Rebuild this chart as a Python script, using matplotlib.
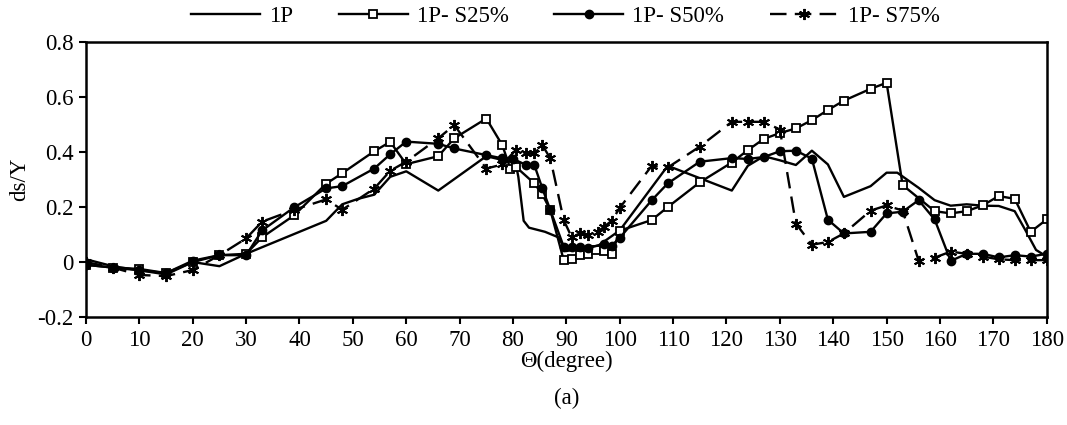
import matplotlib
matplotlib.use("Agg")
import matplotlib.pyplot as plt

plt.rcParams['font.family'] = ['Liberation Serif', 'DejaVu Serif']

# 1P (line only)
x_1p = [0, 5, 10, 15, 20, 25, 30, 45, 48, 51, 54, 57, 60, 66, 75, 80.5, 81, 82, 83, 86, 88.5, 90,
        93, 96, 100, 109, 121, 124, 127, 130, 133, 136, 139, 142, 147, 150, 152, 156, 159, 162, 165,
        168, 171, 174, 176, 178, 180]
y_1p = [0.01, -0.015, -0.03, -0.045, 0.0, -0.015, 0.03, 0.15, 0.21, 0.23, 0.245, 0.31, 0.33, 0.26, 0.385,
        0.36, 0.31, 0.15, 0.125, 0.11, 0.09, 0.04, 0.05, 0.06, 0.115, 0.35, 0.26, 0.35, 0.385, 0.37, 0.353,
        0.405, 0.355, 0.237, 0.276, 0.325, 0.325, 0.27, 0.225, 0.205, 0.21, 0.205, 0.204, 0.185, 0.116,
        0.044, 0.02]

# 1P- S25%
x_s25 = [0, 5, 10, 15, 20, 25, 30, 33, 39, 45, 48, 54, 57, 60, 66, 69, 75, 78, 79.5, 80.5, 84, 85.5, 87,
         89.5, 91, 92.5, 94, 95.5, 97, 98.5, 100, 106, 109, 115, 121, 124, 127, 130, 133, 136, 139, 142,
         147, 150, 153, 159, 162, 165, 168, 171, 174, 177, 180]
y_s25 = [-0.01, -0.02, -0.025, -0.04, 0.0, 0.025, 0.03, 0.09, 0.17, 0.285, 0.323, 0.403, 0.437, 0.356,
         0.385, 0.45, 0.522, 0.425, 0.34, 0.347, 0.286, 0.246, 0.189, 0.007, 0.01, 0.025, 0.03, 0.044,
         0.04, 0.028, 0.114, 0.153, 0.2, 0.29, 0.362, 0.407, 0.448, 0.469, 0.486, 0.516, 0.553, 0.587,
         0.63, 0.652, 0.28, 0.185, 0.177, 0.185, 0.206, 0.24, 0.23, 0.11, 0.155]

# 1P- S50%
x_s50 = [0, 5, 10, 15, 20, 25, 30, 33, 39, 45, 48, 54, 57, 60, 66, 69, 75, 78, 80, 82.5, 84, 85.5, 87,
         89.5, 91, 92.5, 94, 97, 98.5, 100, 106, 109, 115, 121, 124, 127, 130, 133, 136, 139, 142, 147,
         150, 153, 156, 159, 162, 165, 168, 171, 174, 177, 180]
y_s50 = [-0.01, -0.02, -0.03, -0.04, 0.005, 0.025, 0.025, 0.115, 0.199, 0.268, 0.276, 0.34, 0.392,
         0.438, 0.43, 0.413, 0.389, 0.377, 0.375, 0.353, 0.353, 0.268, 0.189, 0.056, 0.056, 0.056, 0.05,
         0.066, 0.06, 0.088, 0.225, 0.286, 0.365, 0.378, 0.375, 0.382, 0.403, 0.405, 0.376, 0.154, 0.104,
         0.11, 0.177, 0.183, 0.225, 0.155, 0.004, 0.03, 0.03, 0.017, 0.025, 0.02, 0.03]

# 1P- S75%
x_s75 = [0, 5, 10, 15, 20, 25, 30, 33, 39, 45, 48, 54, 57, 60, 66, 69, 75, 78, 80.5, 82.5, 84, 85.5, 87,
         89.5, 91, 92.5, 94, 96, 97, 98.5, 100, 106, 109, 115, 121, 124, 127, 130, 133, 136, 139, 142,
         147, 150, 153, 156, 159, 162, 165, 168, 171, 174, 177, 180]
y_s75 = [0.0, -0.02, -0.047, -0.051, -0.029, 0.025, 0.086, 0.147, 0.19, 0.228, 0.19, 0.267, 0.332,
         0.365, 0.45, 0.498, 0.34, 0.355, 0.407, 0.395, 0.395, 0.425, 0.377, 0.153, 0.09, 0.104, 0.098,
         0.11, 0.128, 0.15, 0.197, 0.35, 0.344, 0.42, 0.51, 0.51, 0.51, 0.482, 0.14, 0.063, 0.073, 0.104,
         0.187, 0.206, 0.187, 0.005, 0.016, 0.038, 0.03, 0.02, 0.01, 0.007, 0.007, 0.007]

labels = ["1P", "1P- S25%", "1P- S50%", "1P- S75%"]
xticks = list(range(0, 181, 10))
yticks = [-0.2, 0, 0.2, 0.4, 0.6, 0.8]
ytick_labels = ["-0.2", "0", "0.2", "0.4", "0.6", "0.8"]

fs = 16.5
fig = plt.figure(figsize=(10.67, 4.25), dpi=100)
ax = fig.add_axes([0.0806, 0.254, 0.9004, 0.647])

lw = 1.7
ax.plot(x_1p, y_1p, color='black', lw=lw, label=labels[0])
ax.plot(x_s25, y_s25, color='black', lw=lw, marker='s', markersize=5.5, markerfacecolor='white',
        markeredgecolor='black', markeredgewidth=1.3, label=labels[1])
ax.plot(x_s50, y_s50, color='black', lw=lw, marker='o', markersize=6, markerfacecolor='black',
        markeredgecolor='black', label=labels[2])
ax.plot(x_s75, y_s75, color='black', lw=lw, dashes=(7, 3.5), marker=(6, 2, 0), markersize=8,
        markeredgewidth=1.4, markeredgecolor='black', label=labels[3])

ax.set_xlim(0, 180)
ax.set_ylim(-0.2, 0.8)
ax.set_xticks(xticks)
ax.set_xticklabels([str(t) for t in xticks])
ax.set_yticks(yticks)
ax.set_yticklabels(ytick_labels)
ax.tick_params(direction='out', length=5, width=1.5, labelsize=fs, colors='black', pad=4)
for s in ax.spines.values():
    s.set_linewidth(1.8)
    s.set_color('black')

ax.set_xlabel("Θ(degree)", fontsize=fs, labelpad=0)
ax.set_ylabel("ds/Y", fontsize=fs, labelpad=5)
fig.text(0.5 * (0.0806 + 0.981), 1 - 398 / 425, "(a)", ha='center', va='center', fontsize=fs)

leg = fig.legend(loc='center', bbox_to_anchor=(0.53, 0.962), ncol=4, frameon=False, fontsize=fs,
                 handlelength=3.0, columnspacing=2.0, handletextpad=0.4)

fig.savefig("out.png", dpi=100)
